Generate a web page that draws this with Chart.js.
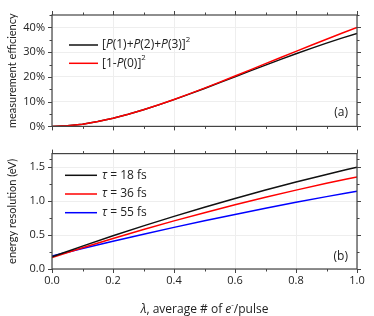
<!DOCTYPE html>
<html>
<head>
<meta charset="utf-8">
<script src="https://cdn.jsdelivr.net/npm/chart.js@4.4.1/dist/chart.umd.min.js"></script>
<style>
  html, body { margin: 0; padding: 0; background: #fff; }
  #wrap { position: relative; width: 374px; height: 316px; }
  #cTop { position: absolute; left: 0; top: 0; }
  #cBot { position: absolute; left: 0; top: 140px; }
</style>
</head>
<body>
<div id="wrap">
  <canvas id="cTop" width="374" height="140"></canvas>
  <canvas id="cBot" width="374" height="176"></canvas>
</div>
<script>
// ---------- data ----------
const lambdaTop = [0, 0.05, 0.1, 0.15, 0.2, 0.25, 0.3, 0.35, 0.4, 0.45, 0.5,
                   0.55, 0.6, 0.65, 0.7, 0.75, 0.8, 0.85, 0.9, 0.95, 1.0];
// measurement efficiency, %
const effP123 = [0, 0.24, 0.91, 1.94, 3.28, 4.89, 6.70, 8.69, 10.82, 13.04, 15.34,
                 17.69, 20.06, 22.42, 24.77, 27.08, 29.33, 31.52, 33.64, 35.66, 37.59];
const effP0   = [0, 0.24, 0.91, 1.94, 3.29, 4.89, 6.72, 8.72, 10.87, 13.13, 15.48,
                 17.90, 20.36, 22.84, 25.34, 27.84, 30.32, 32.79, 35.22, 37.61, 39.96];

const lambdaBot = [0, 0.1, 0.2, 0.3, 0.4, 0.5, 0.6, 0.7, 0.8, 0.9, 1.0];
// energy resolution, eV
const res18 = [0.180, 0.337, 0.489, 0.635, 0.775, 0.910, 1.039, 1.163, 1.281, 1.393, 1.500];
const res36 = [0.170, 0.313, 0.450, 0.582, 0.709, 0.830, 0.946, 1.057, 1.162, 1.262, 1.356];
const res55 = [0.190, 0.301, 0.408, 0.512, 0.613, 0.710, 0.804, 0.895, 0.982, 1.066, 1.146];

const xTicks   = [0, 0.2, 0.4, 0.6, 0.8, 1.0];
const effTicks = [0, 10, 20, 30, 40];
const resTicks = [0, 0.5, 1.0, 1.5];

// ---------- helpers ----------
const FAMILY = "'Open Sans', sans-serif";
const FS = 11;
const AXIS = '#444';
const GRID = '#eeeeee';

function pts(xs, ys) { return xs.map((x, i) => ({ x: x, y: ys[i] })); }

// rich text: segs = [[text, flags]], flags: 'i' italic, 's' superscript
function richWidth(ctx, segs, size) {
  let w = 0;
  segs.forEach(([t, f]) => {
    const fs = f.includes('s') ? size * 0.65 : size;
    ctx.font = (f.includes('i') ? 'italic ' : '') + fs + 'px ' + FAMILY;
    w += ctx.measureText(t).width;
  });
  return w;
}
function drawRich(ctx, x, y, segs, size) {
  let cx = x;
  ctx.textBaseline = 'middle';
  ctx.textAlign = 'left';
  segs.forEach(([t, f]) => {
    const sup = f.includes('s');
    const fs = sup ? size * 0.65 : size;
    ctx.font = (f.includes('i') ? 'italic ' : '') + fs + 'px ' + FAMILY;
    ctx.fillText(t, cx, sup ? y - size * 0.42 : y);
    cx += ctx.measureText(t).width;
  });
}

function mids(arr) {
  const out = [];
  for (let i = 0; i < arr.length - 1; i++) out.push((arr[i] + arr[i + 1]) / 2);
  return out;
}

// frame + outward ticks (major and minor) on all four sides, legend and panel label
const panelPlugin = {
  id: 'panel',
  afterDraw(chart, args, o) {
    const { ctx, chartArea: a, scales: { x, y } } = chart;
    ctx.save();
    ctx.strokeStyle = AXIS;
    ctx.lineWidth = 1.2;
    ctx.strokeRect(a.left, a.top, a.right - a.left, a.bottom - a.top);
    ctx.lineWidth = 1;
    const tick = (x1, y1, x2, y2) => { ctx.beginPath(); ctx.moveTo(x1, y1); ctx.lineTo(x2, y2); ctx.stroke(); };
    const xs = [[o.xMajor, 4], [mids(o.xMajor), 2.5]];
    xs.forEach(([vals, len]) => vals.forEach(v => {
      const px = Math.round(x.getPixelForValue(v)) + 0.5;
      tick(px, a.bottom, px, a.bottom + len);
      tick(px, a.top, px, a.top - len);
    }));
    const yMinor = mids(o.yMajor).concat(o.yExtra || []);
    const ys = [[o.yMajor, 4], [yMinor, 2.5]];
    ys.forEach(([vals, len]) => vals.forEach(v => {
      const py = Math.round(y.getPixelForValue(v)) + 0.5;
      tick(a.left, py, a.left - len, py);
      tick(a.right, py, a.right + len, py);
    }));

    // legend
    ctx.lineWidth = 1.5;
    o.legend.forEach((item, i) => {
      const ly = a.top + o.legY + i * o.legGap;
      ctx.strokeStyle = chart.data.datasets[item.ds].borderColor;
      tick(a.left + o.legX0, ly, a.left + o.legX1, ly);
      ctx.fillStyle = '#222';
      drawRich(ctx, a.left + o.legText, ly, item.segs, 12);
    });

    // panel label
    ctx.fillStyle = '#222';
    ctx.font = '12px ' + FAMILY;
    ctx.textAlign = 'right';
    ctx.textBaseline = 'middle';
    ctx.fillText(o.tag, a.right - 9, a.bottom - o.tagUp);

    // x axis title (bottom panel only)
    if (o.xTitle) {
      const w = richWidth(ctx, o.xTitle, 12);
      drawRich(ctx, (a.left + a.right) / 2 - w / 2, a.bottom + 41, o.xTitle, 12);
    }
    ctx.restore();
  }
};

function yTitle(text) {
  return { display: true, text: text, color: '#222', font: { family: "Lato, sans-serif", size: 11 }, padding: { top: 6, bottom: 0 } };
}

// ---------- top panel ----------
new Chart(document.getElementById('cTop').getContext('2d'), {
  type: 'line',
  data: {
    datasets: [
      { label: '[P(1)+P(2)+P(3)]^2', data: pts(lambdaTop, effP123), borderColor: '#111111', borderWidth: 1.5, pointRadius: 0, order: 2 },
      { label: '[1-P(0)]^2', data: pts(lambdaTop, effP0), borderColor: '#ff0000', borderWidth: 1.5, pointRadius: 0, order: 1 }
    ]
  },
  options: {
    responsive: false,
    devicePixelRatio: 1,
    animation: false,
    layout: { padding: { top: 15, right: 17, bottom: 6, left: 0 } },
    plugins: {
      legend: { display: false },
      tooltip: { enabled: false },
      panel: {
        xMajor: xTicks, yMajor: effTicks, yExtra: [45],
        legend: [
          { ds: 0, segs: [['[', ''], ['P', 'i'], ['(1)+', ''], ['P', 'i'], ['(2)+', ''], ['P', 'i'], ['(3)]', ''], ['2', 's']] },
          { ds: 1, segs: [['[1-', ''], ['P', 'i'], ['(0)]', ''], ['2', 's']] }
        ],
        legX0: 17, legX1: 46, legText: 50, legY: 30, legGap: 18.3,
        tag: '(a)', tagUp: 14
      }
    },
    scales: {
      x: {
        type: 'linear', min: 0, max: 1,
        afterBuildTicks: s => { s.ticks = xTicks.map(v => ({ value: v })); },
        afterFit: s => { s.height = 0; },
        ticks: { display: false },
        border: { display: false },
        grid: { color: GRID, drawTicks: false }
      },
      y: {
        min: 0, max: 45,
        afterBuildTicks: s => { s.ticks = effTicks.map(v => ({ value: v })); },
        afterFit: s => { s.width = 52; },
        ticks: { padding: 7, color: '#222', font: { family: FAMILY, size: FS }, callback: v => v + '%' },
        border: { display: false },
        grid: { color: GRID, drawTicks: false },
        title: yTitle('measurement efficiency')
      }
    }
  },
  plugins: [panelPlugin]
});

// ---------- bottom panel ----------
new Chart(document.getElementById('cBot').getContext('2d'), {
  type: 'line',
  data: {
    datasets: [
      { label: 'τ = 18 fs', data: pts(lambdaBot, res18), borderColor: '#111111', borderWidth: 1.5, pointRadius: 0, cubicInterpolationMode: 'monotone' },
      { label: 'τ = 36 fs', data: pts(lambdaBot, res36), borderColor: '#ff0000', borderWidth: 1.5, pointRadius: 0, cubicInterpolationMode: 'monotone' },
      { label: 'τ = 55 fs', data: pts(lambdaBot, res55), borderColor: '#0000ff', borderWidth: 1.5, pointRadius: 0, cubicInterpolationMode: 'monotone' }
    ]
  },
  options: {
    responsive: false,
    devicePixelRatio: 1,
    animation: false,
    layout: { padding: { top: 10, right: 17, bottom: 0, left: 0 } },
    plugins: {
      legend: { display: false },
      tooltip: { enabled: false },
      panel: {
        xMajor: xTicks, yMajor: resTicks, yExtra: [1.625],
        legend: [
          { ds: 0, segs: [['τ', 'i'], [' = 18 fs', '']] },
          { ds: 1, segs: [['τ', 'i'], [' = 36 fs', '']] },
          { ds: 2, segs: [['τ', 'i'], [' = 55 fs', '']] }
        ],
        legX0: 13, legX1: 45, legText: 50, legY: 21.7, legGap: 18.7,
        tag: '(b)', tagUp: 12.5,
        xTitle: [['λ', 'i'], [', average # of ', ''], ['e', 'i'], ['-', 's'], ['/pulse', '']]
      }
    },
    scales: {
      x: {
        type: 'linear', min: 0, max: 1,
        afterBuildTicks: s => { s.ticks = xTicks.map(v => ({ value: v })); },
        afterFit: s => { s.height = 47; },
        ticks: { padding: 5, color: '#222', maxRotation: 0, font: { family: FAMILY, size: FS }, callback: v => v.toFixed(1) },
        border: { display: false },
        grid: { color: GRID, drawTicks: false }
      },
      y: {
        min: 0, max: 1.7,
        afterBuildTicks: s => { s.ticks = resTicks.map(v => ({ value: v })); },
        afterFit: s => { s.width = 52; },
        ticks: { padding: 7, color: '#222', font: { family: FAMILY, size: FS }, callback: v => v.toFixed(1) },
        border: { display: false },
        grid: { color: GRID, drawTicks: false },
        title: yTitle('energy resolution (eV)')
      }
    }
  },
  plugins: [panelPlugin]
});
</script>
</body>
</html>
